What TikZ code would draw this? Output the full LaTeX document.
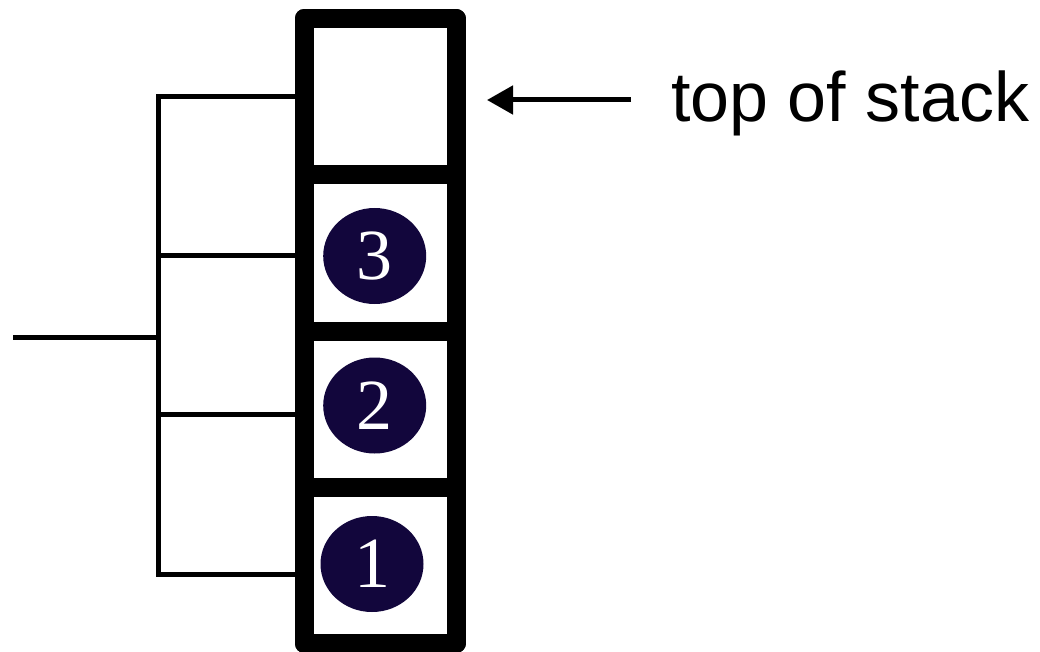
\documentclass[tikz,border=0pt]{standalone}
\usepackage{fontspec}
\usetikzlibrary{arrows.meta,shapes.geometric}
\newfontfamily\labelfont{Liberation Sans}
\newfontfamily\digitfont{Liberation Serif}
\definecolor{ballnavy}{RGB}{18,6,60}
\begin{document}
\begin{tikzpicture}[x=1pt,y=-1pt,
  cellbox/.style={draw=black,line width=19pt,line join=round,rectangle,
    minimum width=152pt,minimum height=156.25pt,inner sep=0pt,outer sep=0pt,fill=white},
  ball/.style={ellipse,fill=ballnavy,minimum width=103pt,minimum height=96pt,
    inner sep=0pt,text=white,font=\digitfont\fontsize{72}{72}\selectfont},
  wire/.style={line width=5pt,line cap=rect},
  pointer/.style={line width=5pt,-{Triangle[length=26pt,width=28pt]}}]
\useasboundingbox (0,0) rectangle (1040,652);

% bracket joining the cells to a single lead on the left
\coordinate (b0) at (158.5,97);
\coordinate (b3) at (158.5,255);
\coordinate (b2) at (158.5,414);
\coordinate (b1) at (158.5,574.5);
\coordinate (stem) at (15,337);
\coordinate (join) at (158.5,337);

% the stack: four cells, top one empty
\node[cellbox] (cell0) at (380,96.625) {};
\node[cellbox] (cell3) at (380,252.875) {};
\node[cellbox] (cell2) at (380,409.125) {};
\node[cellbox] (cell1) at (380,565.375) {};
% redraw the outer frame on top so the borders stay uniform
\draw[line width=19pt,line join=round] (cell0.north west) rectangle (cell1.south east);

\draw[wire] (b0) -- (b1);
\draw[wire] (stem) -- (join);
\draw[wire] (b0) -- (b0 -| cell0.west);
\draw[wire] (b3) -- (b3 -| cell3.west);
\draw[wire] (b2) -- (b2 -| cell2.west);
\draw[wire] (b1) -- (b1 -| cell1.west);

% stacked items
\node[ball] (item3) at (374.7,256) {3};
\node[ball] (item2) at (374.7,405.5) {2};
\node[ball] (item1) at (372,564) {1};

% top-of-stack pointer
\node[anchor=base west,inner sep=0pt,font=\labelfont\fontsize{70}{84}\selectfont]
  (toplabel) at (671,122) {top of stack};
\coordinate (tail) at (631,100);
\coordinate (tip) at (487,100);
\draw[pointer] (tail) -- (tip);
\end{tikzpicture}
\end{document}
